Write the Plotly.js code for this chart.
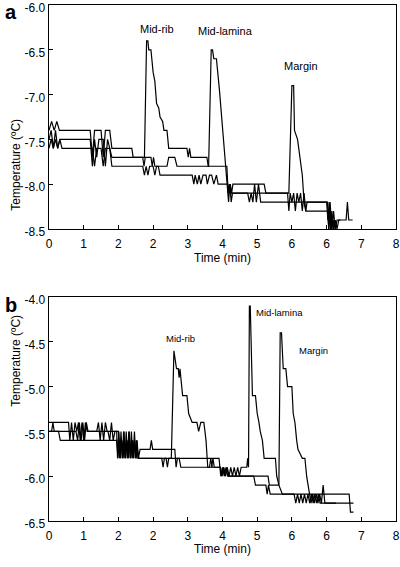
<!DOCTYPE html>
<html>
<head>
<meta charset="utf-8">
<script src="https://cdn.plot.ly/plotly-3.0.1.min.js"></script>
<style>html,body{margin:0;padding:0;background:#fff;}#chart{width:400px;height:567px;}</style>
</head>
<body>
<div id="chart"></div>
<script>
// ---------- data (time in min, temperature in °C) ----------
const xTickVals = [0, 0.8, 1.6, 2.4, 3.2, 4.0, 4.8, 5.6, 6.4, 7.2, 8.0];
const xTickText = ['0', '1', '2', '2', '3', '4', '5', '6', '6', '7', '8'];
const yTickValsA = [-8.5, -8.0, -7.5, -7.0, -6.5, -6.0];
const yTickTextA = ['-8.5', '-8.0', '-7.5', '-7.0', '-6.5', '-6.0'];
const yTickValsB = [-6.5, -6.0, -5.5, -5.0, -4.5, -4.0];
const yTickTextB = ['-6.5', '-6.0', '-5.5', '-5.0', '-4.5', '-4.0'];

// Panel a
const midRibA = [[0,-7.4],[0.06,-7.3],[0.12,-7.4],[0.18,-7.3],[0.24,-7.4],[0.3,-7.4],[0.95,-7.4],[1.0,-7.7],[1.05,-7.4],[1.2,-7.4],[1.25,-7.7],[1.3,-7.4],[1.4,-7.4],[1.45,-7.6],[1.91,-7.6],[1.94,-7.7],[2.2,-7.7],[2.25,-6.4],[2.28,-6.4],[2.3,-6.5],[2.35,-6.5],[2.4,-6.75],[2.44,-6.85],[2.48,-7.1],[2.53,-7.15],[2.56,-7.25],[2.62,-7.3],[2.65,-7.4],[2.72,-7.4],[2.76,-7.6],[3.18,-7.6],[3.21,-7.7],[3.24,-7.6],[3.27,-7.7],[3.64,-7.7],[3.67,-7.8],[4.1,-7.8],[4.13,-8.1],[4.16,-8.0],[4.19,-8.1],[4.22,-8.1],[5.5,-8.1],[5.53,-8.3],[5.56,-8.1],[5.6,-8.2],[5.64,-8.1],[5.68,-8.3],[5.72,-8.1],[5.76,-8.2],[5.8,-8.1],[5.84,-8.3],[5.88,-8.1],[5.92,-8.3],[6.42,-8.3],[6.45,-8.5],[6.48,-8.3],[6.52,-8.5],[6.55,-8.4],[6.6,-8.5]];
const midLaminaA = [[0,-7.5],[0.05,-7.4],[0.1,-7.6],[0.15,-7.4],[0.2,-7.6],[0.25,-7.5],[0.3,-7.5],[0.95,-7.5],[1.0,-7.8],[1.05,-7.5],[1.1,-7.7],[1.15,-7.5],[1.25,-7.5],[1.3,-7.8],[1.35,-7.5],[1.45,-7.7],[2.16,-7.7],[2.19,-7.8],[2.22,-7.7],[2.35,-7.7],[2.38,-7.8],[2.41,-7.7],[2.44,-7.8],[2.72,-7.8],[2.76,-7.7],[2.9,-7.7],[2.95,-7.8],[3.68,-7.8],[3.74,-6.5],[3.77,-6.5],[3.8,-6.6],[3.86,-6.6],[3.93,-6.95],[4.0,-7.4],[4.07,-7.8],[4.1,-8.0],[4.14,-8.2],[4.17,-8.0],[4.2,-8.2],[4.23,-8.1],[4.58,-8.1],[4.62,-8.2],[4.66,-8.1],[4.7,-8.2],[4.74,-8.0],[4.78,-8.2],[4.83,-8.0],[4.88,-8.2],[6.4,-8.2],[6.43,-8.4],[6.46,-8.2],[6.49,-8.5],[6.52,-8.3],[6.56,-8.5],[6.6,-8.4],[6.64,-8.5],[6.68,-8.4],[6.72,-8.4]];
const marginA = [[0,-7.6],[0.05,-7.5],[0.1,-7.6],[0.15,-7.5],[0.2,-7.6],[0.25,-7.5],[0.3,-7.6],[0.95,-7.6],[1.0,-7.6],[1.05,-7.8],[1.1,-7.6],[1.2,-7.6],[1.25,-7.8],[1.3,-7.6],[1.4,-7.6],[1.45,-7.8],[2.16,-7.8],[2.2,-7.9],[2.24,-7.8],[2.28,-7.9],[2.32,-7.8],[2.4,-7.8],[2.44,-7.9],[2.48,-7.8],[2.52,-7.8],[2.56,-7.9],[3.3,-7.9],[3.34,-8.0],[3.37,-7.9],[3.42,-8.0],[3.46,-7.9],[3.5,-8.0],[3.55,-7.9],[3.62,-7.9],[3.65,-8.0],[3.7,-7.9],[3.75,-7.9],[3.8,-8.0],[3.86,-7.9],[3.9,-8.0],[4.12,-8.0],[4.15,-8.1],[4.18,-8.0],[4.21,-8.1],[4.24,-8.0],[4.96,-8.0],[5.0,-8.1],[5.53,-8.1],[5.6,-6.9],[5.64,-6.9],[5.66,-7.4],[5.73,-7.5],[5.78,-7.7],[5.84,-7.9],[5.88,-8.2],[5.92,-8.3],[5.95,-8.2],[6.42,-8.2],[6.45,-8.5],[6.48,-8.2],[6.52,-8.5],[6.56,-8.3],[6.6,-8.5],[6.64,-8.4],[6.68,-8.4],[6.85,-8.4],[6.88,-8.2],[6.91,-8.4],[7.0,-8.4]];

// Panel b
const midRibB = [[0,-5.5],[0.06,-5.5],[0.09,-5.4],[0.12,-5.5],[0.62,-5.5],[0.66,-5.6],[0.7,-5.4],[0.74,-5.6],[0.78,-5.4],[0.82,-5.6],[0.86,-5.4],[0.9,-5.5],[1.36,-5.5],[1.4,-5.6],[1.44,-5.4],[1.48,-5.6],[1.52,-5.5],[1.6,-5.5],[1.63,-5.8],[1.66,-5.5],[1.69,-5.8],[1.72,-5.5],[1.75,-5.8],[1.78,-5.5],[1.81,-5.8],[1.84,-5.5],[1.87,-5.8],[1.9,-5.5],[1.93,-5.8],[1.96,-5.6],[1.99,-5.8],[2.02,-5.6],[2.05,-5.8],[2.1,-5.8],[2.82,-5.8],[2.88,-4.6],[2.91,-4.7],[2.94,-4.8],[2.98,-4.8],[3.0,-4.9],[3.02,-4.8],[3.08,-5.1],[3.18,-5.1],[3.22,-5.3],[3.3,-5.4],[3.41,-5.4],[3.45,-5.5],[3.5,-5.4],[3.57,-5.4],[3.62,-5.6],[3.66,-5.9],[3.7,-5.9],[3.73,-5.8],[3.76,-5.9],[3.95,-5.9],[3.98,-6.0],[4.02,-5.9],[4.06,-6.0],[4.1,-5.9],[4.14,-6.0],[4.2,-6.0],[4.72,-6.0],[4.76,-6.1],[5.0,-6.1],[5.03,-6.2],[5.06,-6.1],[5.1,-6.2],[5.13,-6.2],[6.92,-6.2],[6.95,-6.4],[7.02,-6.4]];
const midLaminaB = [[0,-5.4],[0.45,-5.4],[0.48,-5.6],[0.52,-5.4],[0.56,-5.6],[0.6,-5.4],[0.64,-5.5],[0.68,-5.4],[0.72,-5.6],[0.76,-5.4],[0.8,-5.6],[0.84,-5.4],[0.88,-5.5],[1.1,-5.5],[1.14,-5.4],[1.18,-5.6],[1.22,-5.4],[1.26,-5.6],[1.3,-5.4],[1.34,-5.5],[1.56,-5.5],[1.58,-5.8],[1.61,-5.5],[1.64,-5.8],[1.67,-5.6],[1.7,-5.8],[1.73,-5.5],[1.76,-5.8],[1.79,-5.6],[1.82,-5.8],[1.85,-5.5],[1.88,-5.8],[1.91,-5.6],[1.94,-5.8],[1.97,-5.5],[2.0,-5.8],[2.03,-5.6],[2.06,-5.8],[2.1,-5.7],[2.33,-5.7],[2.36,-5.6],[2.39,-5.7],[2.9,-5.7],[2.93,-5.9],[2.96,-5.8],[3.0,-5.8],[3.04,-5.9],[3.08,-5.9],[3.75,-5.9],[3.78,-5.8],[3.81,-5.9],[3.84,-5.9],[3.95,-5.9],[3.99,-6.0],[4.03,-5.9],[4.07,-6.0],[4.11,-5.9],[4.15,-6.0],[4.19,-5.9],[4.23,-6.0],[4.27,-5.9],[4.31,-6.0],[4.35,-5.9],[4.39,-6.0],[4.43,-5.9],[4.56,-5.9],[4.58,-5.8],[4.6,-5.9],[4.62,-4.1],[4.64,-4.1],[4.69,-5.1],[4.76,-5.1],[4.8,-5.3],[4.84,-5.4],[4.87,-5.5],[4.92,-5.6],[4.96,-5.8],[5.22,-5.8],[5.25,-6.0],[5.3,-6.1],[5.38,-6.2],[5.65,-6.2],[5.69,-6.3],[5.73,-6.2],[5.77,-6.3],[5.81,-6.2],[5.85,-6.3],[5.89,-6.2],[5.93,-6.3],[5.97,-6.2],[6.01,-6.3],[6.05,-6.2],[6.09,-6.3],[6.13,-6.2],[6.17,-6.3],[6.21,-6.2],[6.25,-6.3],[6.3,-6.3],[6.62,-6.3]];
const marginB = [[0,-5.5],[0.22,-5.5],[0.26,-5.6],[1.56,-5.6],[1.59,-5.8],[1.62,-5.6],[1.65,-5.8],[1.68,-5.6],[1.71,-5.8],[1.74,-5.6],[1.77,-5.8],[1.8,-5.6],[1.83,-5.8],[1.86,-5.6],[1.89,-5.8],[1.92,-5.6],[1.95,-5.8],[1.98,-5.6],[2.01,-5.8],[2.04,-5.7],[2.07,-5.8],[2.6,-5.8],[2.63,-5.9],[2.66,-5.8],[2.7,-5.8],[2.73,-5.9],[2.76,-5.8],[3.92,-5.8],[3.96,-6.0],[4.0,-5.9],[4.04,-6.0],[4.08,-5.9],[4.12,-6.0],[5.05,-6.0],[5.08,-6.1],[5.3,-6.1],[5.33,-4.4],[5.36,-4.4],[5.4,-4.8],[5.46,-4.8],[5.5,-5.0],[5.6,-5.0],[5.63,-5.3],[5.67,-5.4],[5.71,-5.6],[5.74,-5.7],[5.84,-5.8],[5.9,-5.8],[5.94,-6.0],[6.0,-6.2],[6.04,-6.3],[6.08,-6.2],[6.12,-6.3],[6.16,-6.2],[6.2,-6.3],[6.24,-6.2],[6.28,-6.3],[6.32,-6.1],[6.36,-6.3],[7.02,-6.3]];

const labelNames = ['Mid-rib', 'Mid-lamina', 'Margin'];
const labelPosA = [[2.5, -6.27], [4.07, -6.29], [5.8, -6.68]];
const labelPosB = [[3.03, -4.46], [5.32, -4.17], [6.1, -4.6]];

// ---------- build ----------
function line(pairs, xa, ya) {
  return {
    x: pairs.map(p => p[0]), y: pairs.map(p => p[1]),
    xaxis: xa, yaxis: ya, type: 'scatter', mode: 'lines',
    line: {color: '#000', width: 1.2}, hoverinfo: 'skip', showlegend: false
  };
}
const traces = [
  line(midRibA, 'x', 'y'), line(midLaminaA, 'x', 'y'), line(marginA, 'x', 'y'),
  line(midRibB, 'x2', 'y2'), line(midLaminaB, 'x2', 'y2'), line(marginB, 'x2', 'y2')
];

const axisBase = {
  ticks: 'inside', ticklen: 4, tickwidth: 1, tickcolor: '#000',
  showline: true, linecolor: '#000', linewidth: 1.3, mirror: true,
  showgrid: false, zeroline: false, fixedrange: true,
  ticklabeloverflow: 'allow',
  tickfont: {size: 12, color: '#000'}
};
const xa = Object.assign({}, axisBase, {range: [0, 8], tickmode: 'array', tickvals: xTickVals, ticktext: xTickText, ticklabelstandoff: 3});
const yExtra = {ticklabelshift: 3};

const annots = [];
function txt(text, x, y, xref, yref, opts) {
  annots.push(Object.assign({text: text, x: x, y: y, xref: xref, yref: yref, showarrow: false}, opts || {}));
}
labelNames.forEach((n, i) => {
  txt(n, labelPosA[i][0], labelPosA[i][1], 'x', 'y', {font: {size: 11}});
  txt(n, labelPosB[i][0], labelPosB[i][1], 'x2', 'y2', {font: {size: 9.5}});
});
txt('<b>a</b>', -0.11, 1.0097, 'paper', 'paper', {font: {size: 20}, xanchor: 'center', yanchor: 'top', borderpad: 0});
txt('<b>b</b>', -0.11, 0.419, 'paper', 'paper', {font: {size: 20}, xanchor: 'center', yanchor: 'middle', borderpad: 0});
txt('Time (min)', 0.5, 0.51, 'paper', 'paper', {font: {size: 12}});
txt('Time (min)', 0.5, -0.072, 'paper', 'paper', {font: {size: 12}});
txt('Temperature (ºC)', -0.122, 0.783, 'paper', 'paper', {font: {size: 12}, textangle: -90});
txt('Temperature (ºC)', -0.122, 0.217, 'paper', 'paper', {font: {size: 12}, textangle: -90});

const layout = {
  width: 400, height: 567,
  margin: {l: 49, r: 4, t: 5, b: 46, pad: 0},
  paper_bgcolor: '#fff', plot_bgcolor: '#fff',
  font: {family: '"Liberation Sans", Arial, Helvetica, sans-serif', size: 12, color: '#000'},
  showlegend: false,
  xaxis: Object.assign({}, xa, {anchor: 'y', domain: [0, 1]}),
  yaxis: Object.assign({}, axisBase, yExtra, {anchor: 'x', domain: [0.566, 1], range: [-8.5, -6.0], tickmode: 'array', tickvals: yTickValsA, ticktext: yTickTextA}),
  xaxis2: Object.assign({}, xa, {anchor: 'y2', domain: [0, 1]}),
  yaxis2: Object.assign({}, axisBase, yExtra, {anchor: 'x2', domain: [0, 0.434], range: [-6.5, -4.0], tickmode: 'array', tickvals: yTickValsB, ticktext: yTickTextB}),
  annotations: annots
};
Plotly.newPlot('chart', traces, layout, {staticPlot: true, displayModeBar: false});
</script>
</body>
</html>
